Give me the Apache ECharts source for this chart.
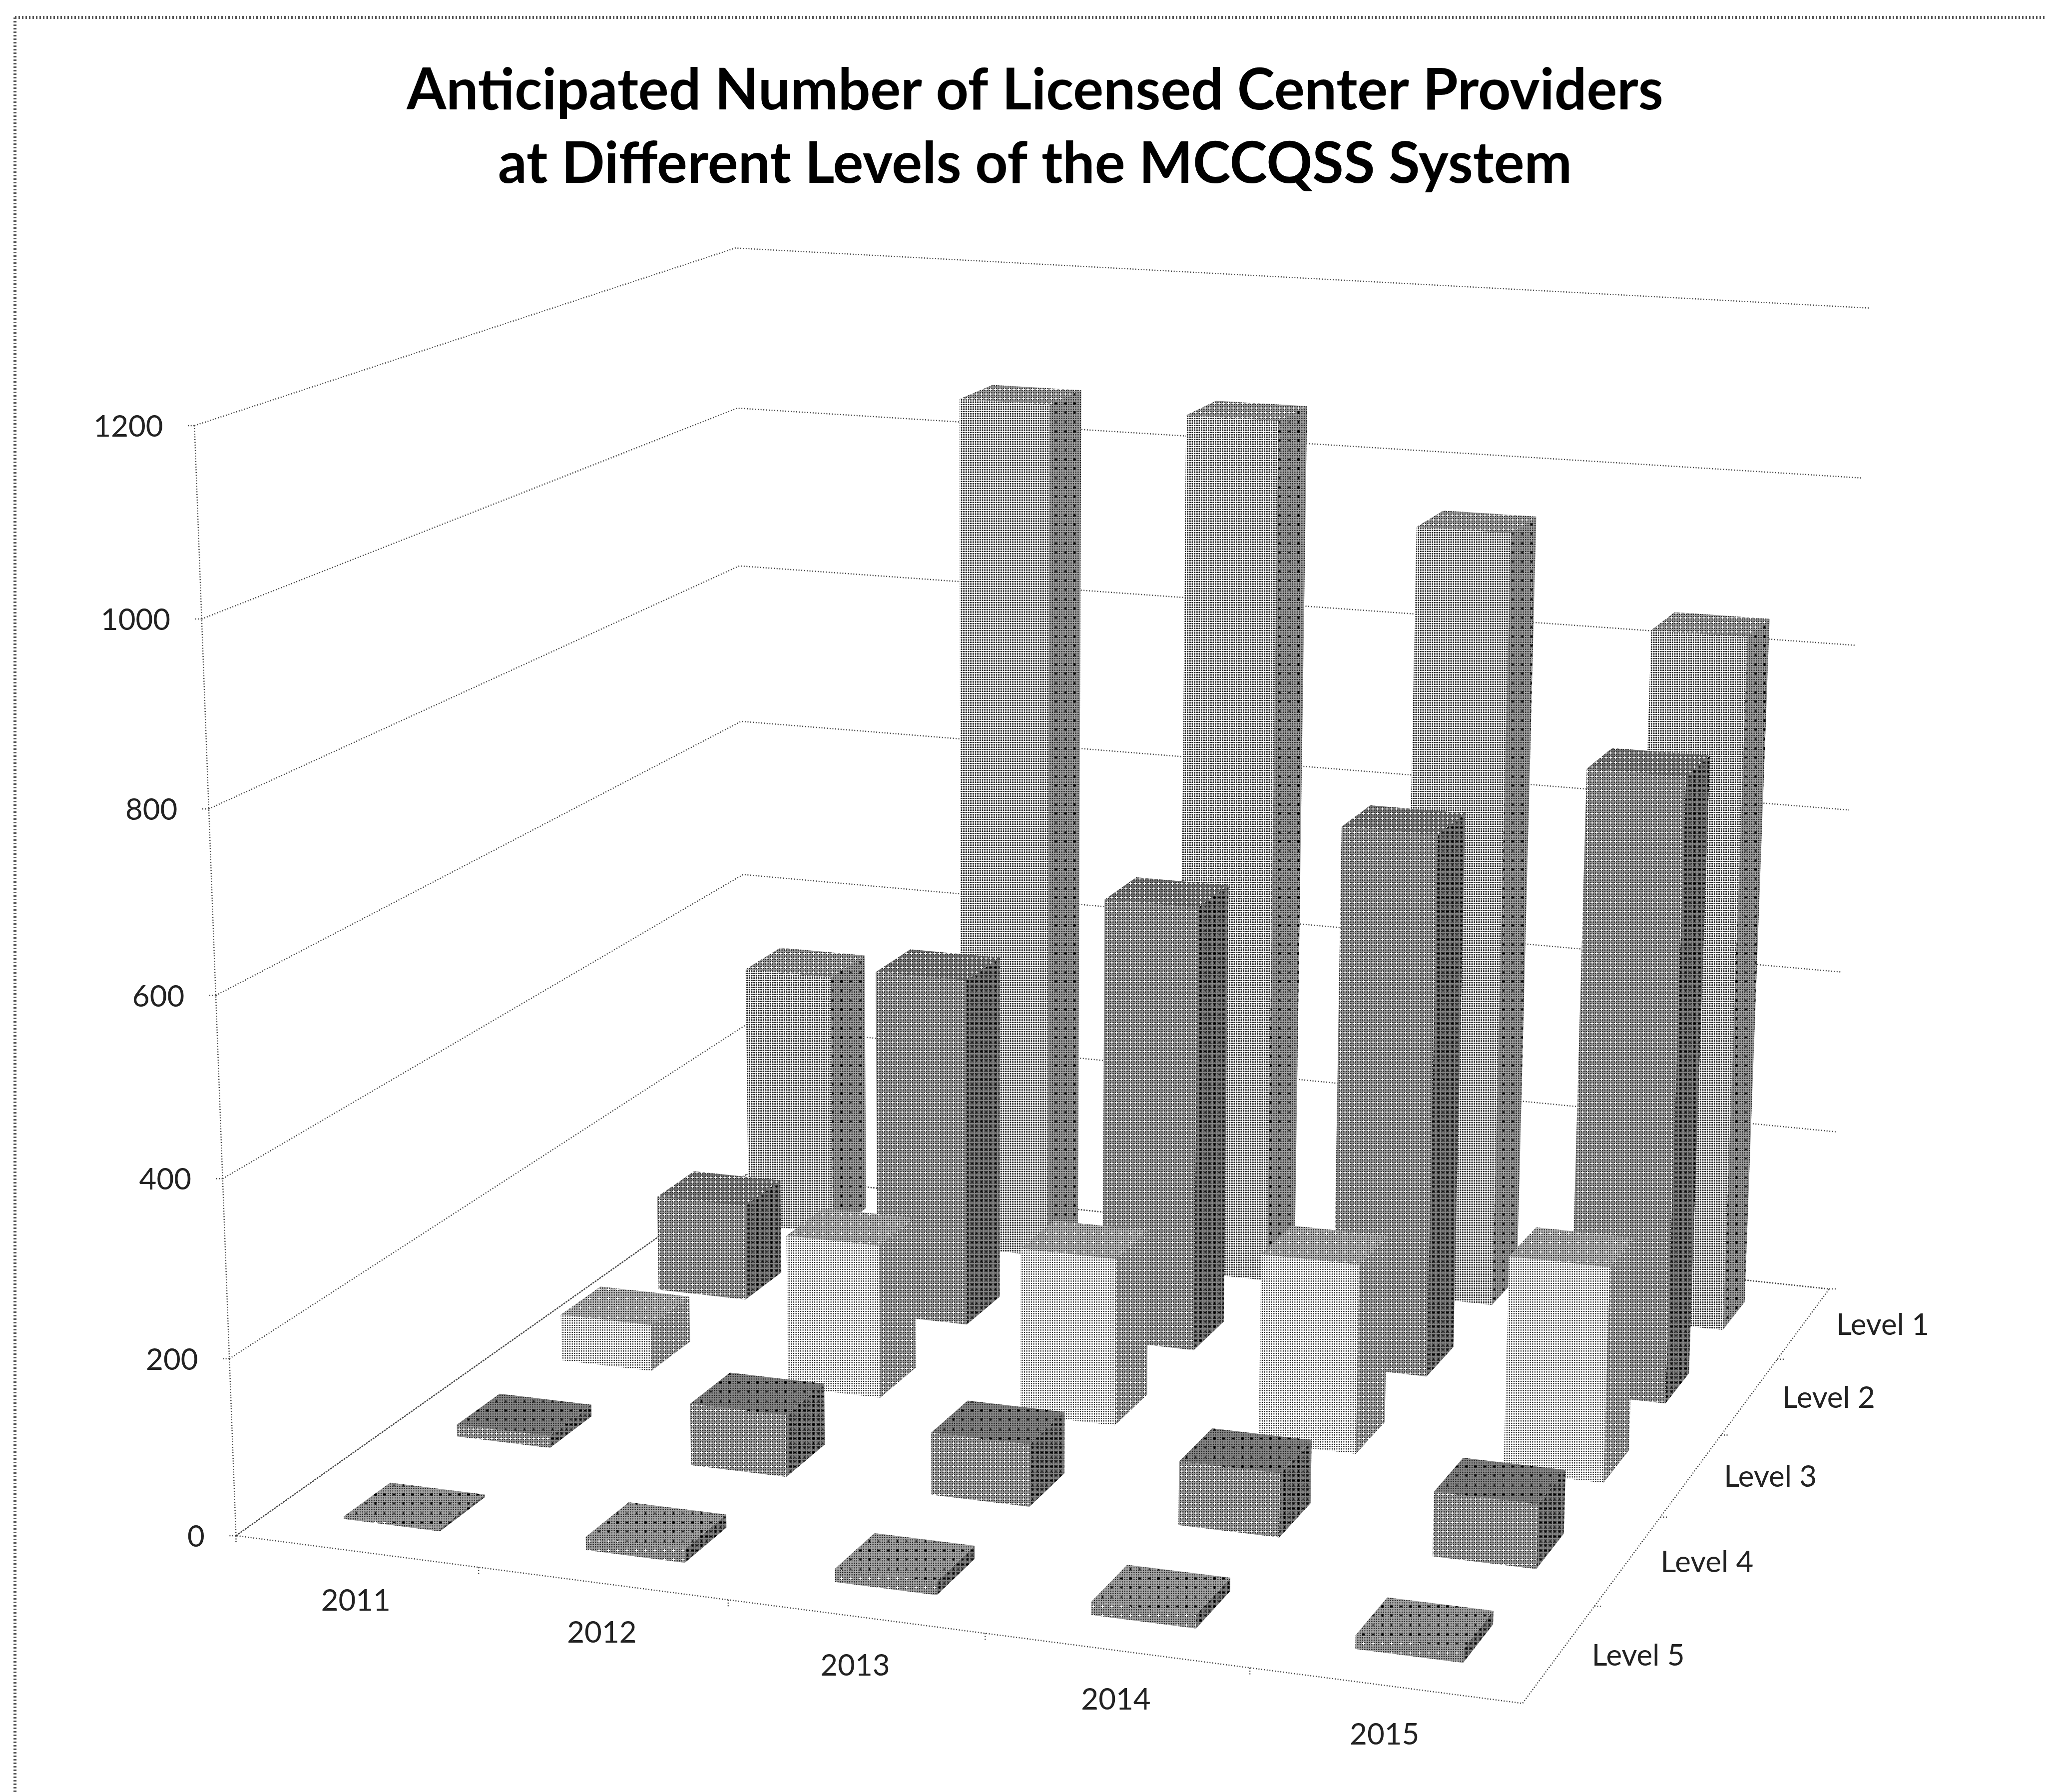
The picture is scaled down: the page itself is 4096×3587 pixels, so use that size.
<!DOCTYPE html>
<html>
<head>
<meta charset="utf-8">
<style>html,body{margin:0;padding:0;background:#fff}#chart{width:4096px;height:3587px}</style>
<script src="https://cdn.jsdelivr.net/npm/echarts@6/dist/echarts.min.js"></script>
</head>
<body>
<div id="chart"></div>
<script>
// Chart content
const chartTitle = 'Anticipated Number of Licensed Center Providers\nat Different Levels of the MCCQSS System';
const years = ['2011', '2012', '2013', '2014', '2015'];
const levels = ['Level 1', 'Level 2', 'Level 3', 'Level 4', 'Level 5'];
const valueTicks = [0, 200, 400, 600, 800, 1000, 1200];

const level1 = [332, 1063, 1060, 945, 842];
const level2 = [118, 425, 538, 648, 738];
const level3 = [56, 183, 198, 222, 250];
const level4 = [14, 72, 72, 73, 73];
const level5 = [3, 15, 15, 15, 15];
const levelValues = [level1, level2, level3, level4, level5];

// Halftone shading per level: [front, right side, top]; each is [background grey, dot radius, accent colour, accents per tile]
const faceShades = [
  [[255, 1.7, null, 0], [160, 1.3, '#000', 3], [155, 1.3, '#fff', 6]],
  [[150, 1.3, '#fff', 6], [135, 1.2, '#000', 6], [115, 1.2, '#fff', 6]],
  [[255, 1.3, null, 0], [155, 1.3, '#fff', 6], [190, 1.3, '#fff', 3]],
  [[155, 1.3, '#fff', 6], [135, 1.2, '#000', 6], [135, 1.2, '#000', 3]],
  [[165, 1.3, '#fff', 3], [130, 1.2, '#000', 6], [165, 1.2, '#000', 3]]
];

// Camera anchors in a 1568-wide layout: year depth, level depth, value share, x, y
const LAYOUT_WIDTH = 1568;
const cameraAnchors = [
  [0, 0, 0, 182, 1175], [5, 0, 0, 1167, 1307], [5, 5, 0, 1401, 986], [0, 5, 0, 572, 903],
  [0, 0, 1, 148, 327], [0, 5, 1, 565, 190], [5, 5, 1, 1432, 237],
  [0, 0, 0.5, 165, 762], [0, 5, 0.5, 567, 551], [5, 5, 0.5, 1418, 620]
];
const BAR_WIDTH = 0.4;
const BAR_DEPTH = 0.4;
const LEVEL_COUNT = levels.length;
const YEAR_COUNT = years.length;
const VALUE_MAX = valueTicks[valueTicks.length - 1];

const el = document.getElementById('chart');
const chart = echarts.init(el, null, {renderer: 'canvas'});
const W = chart.getWidth();
const H = chart.getHeight();
const K = W / LAYOUT_WIDTH;

// Solves the 3D-to-2D projective camera from the anchors by least squares.
function solveCamera(anchors) {
  const n = 11;
  const A = Array.from({length: n}, () => new Array(n + 1).fill(0));
  const add = (row, rhs) => {
    for (let i = 0; i < n; i++) {
      for (let j = 0; j < n; j++) A[i][j] += row[i] * row[j];
      A[i][n] += row[i] * rhs;
    }
  };
  anchors.forEach(([u, v, s, x, y]) => {
    const a = u / 5, b = v / 5;
    const px = x / 1000, py = y / 1000;
    add([a, b, s, 1, 0, 0, 0, 0, -px * a, -px * b, -px * s], px);
    add([0, 0, 0, 0, a, b, s, 1, -py * a, -py * b, -py * s], py);
  });
  for (let i = 0; i < n; i++) A[i][i] += 1e-9;
  for (let c = 0; c < n; c++) {
    let p = c;
    for (let r = c + 1; r < n; r++) if (Math.abs(A[r][c]) > Math.abs(A[p][c])) p = r;
    [A[c], A[p]] = [A[p], A[c]];
    for (let r = 0; r < n; r++) {
      if (r === c) continue;
      const f = A[r][c] / A[c][c];
      for (let k = c; k <= n; k++) A[r][k] -= f * A[c][k];
    }
  }
  return A.map((row, i) => row[n] / row[i]);
}
const cam = solveCamera(cameraAnchors);

// u and v run over 0..5 on the year and level floors; s is the share of the value axis.
function project(u, v, s) {
  const a = u / 5, b = v / 5;
  const w = cam[8] * a + cam[9] * b + cam[10] * s + 1;
  return [
    (cam[0] * a + cam[1] * b + cam[2] * s + cam[3]) / w * 1000 * K,
    (cam[4] * a + cam[5] * b + cam[6] * s + cam[7]) / w * 1000 * K
  ];
}

// Builds one tile of the printed halftone screen.
function halftone([bg, r, accent, accentCount]) {
  const tile = 56;
  const c = document.createElement('canvas');
  c.width = c.height = tile;
  const g = c.getContext('2d');
  g.fillStyle = 'rgb(' + bg + ',' + bg + ',' + bg + ')';
  g.fillRect(0, 0, tile, tile);
  const step = tile / 12;
  g.fillStyle = '#1c1c1c';
  for (let i = 0; i < 12; i++) {
    for (let j = 0; j < 12; j++) {
      g.beginPath();
      g.arc((i + 0.5) * step, (j + 0.5) * step, r, 0, Math.PI * 2);
      g.fill();
    }
  }
  if (accent) {
    const s = tile / accentCount;
    g.fillStyle = accent;
    for (let i = 0; i < accentCount; i++) {
      for (let j = 0; j < accentCount; j++) {
        const x = i * s + step, y = j * s + step;
        g.fillRect(x - 3, y - 0.7, 6, 1.4);
        g.fillRect(x - 0.7, y - 3, 1.4, 6);
      }
    }
  }
  return {image: c, repeat: 'repeat'};
}
const facePatterns = faceShades.map(faces => faces.map(halftone));

// Reads the year band and value share back out of the hidden cartesian axes.
function toScene(api, yearIndex, value) {
  const p = api.coord([yearIndex, value]);
  return {u: p[0] / (api.getWidth() / YEAR_COUNT), s: (api.getHeight() - p[1]) / api.getHeight()};
}

function poly(points, fill) {
  return {type: 'polygon', shape: {points}, style: {fill, stroke: null}, silent: true};
}

function renderBar(levelIndex) {
  return (params, api) => {
    const {u, s} = toScene(api, api.value(0), api.value(1));
    const v = LEVEL_COUNT - levelIndex - 0.5;
    const u0 = u - BAR_WIDTH / 2, u1 = u + BAR_WIDTH / 2;
    const v0 = v - BAR_DEPTH / 2, v1 = v + BAR_DEPTH / 2;
    const faces = facePatterns[levelIndex];
    return {
      type: 'group',
      children: [
        poly([project(u0, v0, 0), project(u1, v0, 0), project(u1, v0, s), project(u0, v0, s)], faces[0]),
        poly([project(u1, v0, 0), project(u1, v1, 0), project(u1, v1, s), project(u1, v0, s)], faces[1]),
        poly([project(u0, v0, s), project(u1, v0, s), project(u1, v1, s), project(u0, v1, s)], faces[2])
      ]
    };
  };
}

const lineStyle = {stroke: '#444', lineWidth: 2.5, lineDash: [2, 3.5], fill: null};
function polyline(points) {
  return {type: 'polyline', shape: {points}, style: lineStyle, silent: true};
}
const TICK = 5 * K;
const textStyle = {fill: '#222', fontFamily: 'Lato', fontSize: 60};

// Walls: each value gridline runs along the left wall and then the back wall.
function renderWall(params, api) {
  const value = api.value(1);
  const {s} = toScene(api, 0, value);
  const near = project(0, 0, s);
  const children = [
    polyline([near, project(0, 5, s), project(5, 5, s)]),
    polyline([[near[0] - TICK, near[1]], near]),
    {type: 'text', silent: true, style: Object.assign({
      text: String(value), x: near[0] - 24 * K, y: near[1] + K, align: 'right', verticalAlign: 'middle'
    }, textStyle)}
  ];
  return {type: 'group', children};
}

function renderYearAxis(params, api) {
  const i = api.value(0);
  const {u} = toScene(api, i, 0);
  const tickBase = project(i, 0, 0);
  const at = project(u, 0, 0);
  return {type: 'group', children: [
    polyline([tickBase, [tickBase[0], tickBase[1] + TICK]]),
    {type: 'text', silent: true, style: Object.assign({
      text: years[i], x: at[0] - 0.5 * K, y: at[1] + 38 * K, align: 'center', verticalAlign: 'middle'
    }, textStyle)}
  ]};
}

function renderLevelAxis(params, api) {
  const i = api.value(0);
  const v = LEVEL_COUNT - i - 0.5;
  const at = project(5, v, 0);
  const tickBase = project(5, v + 0.5, 0);
  return {type: 'group', children: [
    polyline([tickBase, [tickBase[0] + TICK, tickBase[1]]]),
    {type: 'text', silent: true, style: Object.assign({
      text: levels[i], x: at[0] + 25 * K, y: at[1] + 1.5 * K, align: 'left', verticalAlign: 'middle'
    }, textStyle)}
  ]};
}

// Floor outline and the value axis are one fixed path in scene space.
function renderOutline(params, api) {
  return {type: 'group', children: [
    polyline([project(0, 5, 0), project(0, 0, 0), project(5, 0, 0), project(5, 5, 0), project(0, 5, 0)]),
    polyline([project(0, 0, 0), project(0, 0, 1)])
  ]};
}

const common = {type: 'custom', coordinateSystem: 'cartesian2d', clip: false, animation: false, silent: true};

const barSeries = levels.map((name, li) => Object.assign({}, common, {
  name,
  z: 10,
  renderItem: renderBar(li),
  encode: {x: 0, y: 1},
  data: levelValues[li].map((val, yi) => [yi, val])
}));

chart.setOption({
  animation: false,
  backgroundColor: '#fff',
  title: {
    text: chartTitle,
    left: 2067,
    top: 104,
    textAlign: 'center',
    textStyle: {fontFamily: 'Lato', fontWeight: 'bold', fontSize: 114, lineHeight: 147, color: '#000'}
  },
  grid: {left: 0, right: 0, top: 0, bottom: 0, show: false},
  xAxis: {type: 'category', data: years, show: false},
  yAxis: {type: 'value', min: 0, max: VALUE_MAX, interval: 200, show: false},
  graphic: [
    {type: 'line', shape: {x1: 30, y1: 35, x2: W, y2: 35}, style: {stroke: '#555', lineWidth: 6, lineDash: [3, 4]}},
    {type: 'line', shape: {x1: 30, y1: 35, x2: 30, y2: H}, style: {stroke: '#555', lineWidth: 6, lineDash: [3, 4]}}
  ],
  series: [
    Object.assign({}, common, {name: 'walls', z: 1, renderItem: renderWall, encode: {x: 0, y: 1},
      data: valueTicks.map(t => [0, t])}),
    Object.assign({}, common, {name: 'outline', z: 2, renderItem: renderOutline, data: [[0, 0]]}),
    Object.assign({}, common, {name: 'years', z: 2, renderItem: renderYearAxis, data: years.map((y, i) => [i, 0])}),
    Object.assign({}, common, {name: 'levels', z: 2, renderItem: renderLevelAxis, data: levels.map((l, i) => [i, 0])})
  ].concat(barSeries)
});
</script>
</body>
</html>
